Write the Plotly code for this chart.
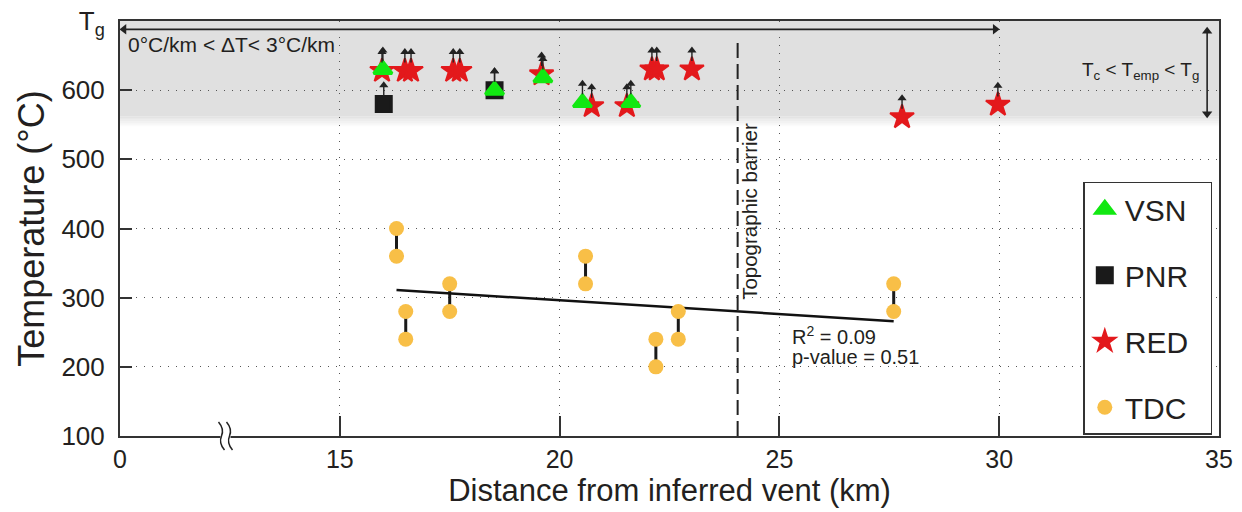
import plotly.graph_objects as go

# ---------------- data ----------------
vsn_x = [15.98, 18.52, 19.62, 20.52, 21.62]
vsn_t = [630, 600, 618, 582, 582]

pnr_x = [16.00, 18.52]
pnr_t = [580, 600]

red_x = [15.96, 16.48, 16.62, 17.58, 17.73, 19.59, 20.73, 21.53, 22.10, 22.21, 23.01, 27.79, 29.97]
red_t = [628, 628, 628, 628, 628, 623, 577, 577, 630, 630, 630, 561, 579]

tdc_x = [16.29, 16.50, 17.50, 20.59, 22.19, 22.70, 27.60]
tdc_low = [360, 240, 280, 320, 200, 240, 280]
tdc_high = [400, 280, 320, 360, 240, 280, 320]

fit_x = [16.29, 27.60]
fit_t = [311, 266]
r_squared = 0.09
p_value = 0.51

barrier_x = 24.05
barrier_top = 677
band_low, band_high = 556, 700          # Tc < Temp < Tg band
gradient_x = [10, 30]                    # 0 .. 30 km arrow
gradient_y = 688
band_arrow_x = 34.73
band_arrow_y = [560, 691]
break_x = 12.4

x_tickvals = [10, 15, 20, 25, 30, 35]
x_ticktext = ["0", "15", "20", "25", "30", "35"]
y_tickvals = [100, 200, 300, 400, 500, 600, 700]
y_ticktext = ["100", "200", "300", "400", "500", "600", "T<sub>g</sub>"]

X_RANGE = [10, 35]
Y_RANGE = [100, 700]
L, R, T, B, W, H = 120, 23, 21, 76, 1242, 512
PX_X = (X_RANGE[1] - X_RANGE[0]) / (W - L - R)   # data units per pixel
PX_Y = (Y_RANGE[1] - Y_RANGE[0]) / (H - T - B)

FONT = "Liberation Sans, Arial, sans-serif"
TXT = "#231f20"
AX = "#333333"
ARR = "#222222"
HEAD = 8
RED, GREEN, BLACK, GOLD = "#e3191c", "#12e812", "#1a1a1a", "#f8bf47"
PAD = "\u00a0\u00a0"   # right padding inside the legend box

fig = go.Figure()

# TDC connecting bars
bx, by = [], []
for x, lo, hi in zip(tdc_x, tdc_low, tdc_high):
    bx += [x, x, None]
    by += [lo, hi, None]
fig.add_trace(go.Scatter(x=bx, y=by, mode="lines", line=dict(color="#1a1a1a", width=3),
                         showlegend=False, hoverinfo="skip"))

# regression line
fig.add_trace(go.Scatter(x=fit_x, y=fit_t, mode="lines", line=dict(color="#111111", width=2.5),
                         showlegend=False, hoverinfo="skip"))

fig.add_trace(go.Scatter(x=red_x, y=red_t, mode="markers", name="RED" + PAD, legendrank=3,
                         legendgroup="red",
                         marker=dict(symbol="star", size=18, color=RED,
                                     line=dict(width=2, color=RED))))
fig.add_trace(go.Scatter(x=pnr_x, y=pnr_t, mode="markers", name="PNR" + PAD, legendrank=2,
                         legendgroup="pnr",
                         marker=dict(symbol="square", size=15, color=BLACK,
                                     line=dict(width=3, color=BLACK))))
fig.add_trace(go.Scatter(x=vsn_x, y=vsn_t, mode="markers", name="VSN" + PAD, legendrank=1,
                         legendgroup="vsn",
                         marker=dict(symbol="triangle-up", size=16, color=GREEN,
                                     line=dict(width=3, color=GREEN))))
fig.add_trace(go.Scatter(x=tdc_x + tdc_x, y=tdc_low + tdc_high, mode="markers", name="TDC" + PAD,
                         legendrank=4, legendgroup="tdc",
                         marker=dict(symbol="circle", size=15, color=GOLD, line=dict(width=0))))

# upward arrows for minimum temperatures (shafts + heads)
ax_, ay_, hx, hy = [], [], [], []
head_off = HEAD / 2 * PX_Y
for xs, ts in ((red_x, red_t), (pnr_x, pnr_t), (vsn_x, vsn_t)):
    for x, t in zip(xs, ts):
        tip = t + 33
        ax_ += [x, x, None]
        ay_ += [t + 12, tip - head_off, None]
        hx.append(x)
        hy.append(tip - head_off)
fig.add_trace(go.Scatter(x=ax_, y=ay_, mode="lines", line=dict(color=ARR, width=1.4),
                         showlegend=False, hoverinfo="skip"))
fig.add_trace(go.Scatter(x=hx, y=hy, mode="markers", showlegend=False, hoverinfo="skip",
                         marker=dict(symbol="triangle-up", size=HEAD, color=ARR, line=dict(width=0))))

# horizontal gradient arrow (double headed)
hoff = HEAD / 2 * PX_X
fig.add_trace(go.Scatter(x=[gradient_x[0] + hoff, gradient_x[1] - hoff], y=[gradient_y, gradient_y],
                         mode="lines", line=dict(color=ARR, width=1.8),
                         showlegend=False, hoverinfo="skip"))
fig.add_trace(go.Scatter(x=[gradient_x[0] + hoff, gradient_x[1] - hoff], y=[gradient_y, gradient_y],
                         mode="markers", showlegend=False, hoverinfo="skip",
                         marker=dict(symbol=["triangle-left", "triangle-right"], size=HEAD + 1,
                                     color=ARR, line=dict(width=0))))
# vertical band arrow (double headed)
fig.add_trace(go.Scatter(x=[band_arrow_x, band_arrow_x],
                         y=[band_arrow_y[0] + head_off, band_arrow_y[1] - head_off],
                         mode="lines", line=dict(color=ARR, width=1.6),
                         showlegend=False, hoverinfo="skip"))
fig.add_trace(go.Scatter(x=[band_arrow_x, band_arrow_x],
                         y=[band_arrow_y[0] + head_off, band_arrow_y[1] - head_off],
                         mode="markers", showlegend=False, hoverinfo="skip",
                         marker=dict(symbol=["triangle-down", "triangle-up"], size=HEAD + 1,
                                     color=ARR, line=dict(width=0))))

annotations = []
annotations.append(dict(x=gradient_x[0], y=666, xref="x", yref="y", xanchor="left", xshift=6,
                        text="0°C/km < ΔT< 3°C/km", showarrow=False,
                        font=dict(size=21, color=TXT, family=FONT)))
annotations.append(dict(x=34.58, y=628, xref="x", yref="y", xanchor="right",
                        text="T<sub>c</sub> < T<sub>emp</sub> < T<sub>g</sub>", showarrow=False,
                        font=dict(size=19, color=TXT, family=FONT)))
annotations.append(dict(x=barrier_x, y=425, xref="x", yref="y", xshift=12, textangle=-90,
                        text="Topographic barrier", showarrow=False,
                        font=dict(size=20.5, color=TXT, family=FONT)))
annotations.append(dict(x=25.25, y=246, xref="x", yref="y", xanchor="left",
                        text=f"R<sup>2</sup> = {r_squared:.2f}", showarrow=False,
                        font=dict(size=20, color=TXT, family=FONT)))
annotations.append(dict(x=25.25, y=214, xref="x", yref="y", xanchor="left",
                        text=f"p-value = {p_value:.2f}", showarrow=False,
                        font=dict(size=20, color=TXT, family=FONT)))

shapes = []
# grey band with soft lower edge
shapes.append(dict(type="rect", xref="x", yref="y", x0=X_RANGE[0], x1=X_RANGE[1],
                   y0=band_low + 6, y1=band_high,
                   fillcolor="#e0e0e0", line=dict(width=0), layer="below"))
steps = 6
for i in range(steps):
    y0 = band_low - 8 + i * 14 / steps
    shapes.append(dict(type="rect", xref="x", yref="y", x0=X_RANGE[0], x1=X_RANGE[1],
                       y0=y0, y1=y0 + 14 / steps,
                       fillcolor=f"rgba(224,224,224,{(i + 1) / (steps + 1):.2f})",
                       line=dict(width=0), layer="below"))
# barrier line
shapes.append(dict(type="line", xref="x", yref="y", x0=barrier_x, x1=barrier_x,
                   y0=Y_RANGE[0], y1=barrier_top,
                   line=dict(color="#222222", width=2, dash="15px,6px")))
# axis break (paper refs so it is not clipped)
bxp = (break_x - X_RANGE[0]) / (X_RANGE[1] - X_RANGE[0])
shapes.append(dict(type="rect", xref="paper", yref="paper", xsizemode="pixel", ysizemode="pixel",
                   xanchor=bxp, yanchor=0, x0=-5, x1=5, y0=-4, y1=4,
                   fillcolor="white", line=dict(width=0), layer="above"))
for cx in (-4, 4):
    shapes.append(dict(type="path", xref="paper", yref="paper", xsizemode="pixel", ysizemode="pixel",
                       xanchor=bxp, yanchor=0,
                       path=f"M {cx-3},14 Q {cx+3},7 {cx},0 Q {cx-3},-7 {cx+3},-14",
                       line=dict(color="#222222", width=1.5), layer="above"))

fig.update_layout(
    width=W, height=H, template="none",
    paper_bgcolor="white", plot_bgcolor="white",
    margin=dict(l=L, r=R, t=T, b=B, autoexpand=False),
    font=dict(family=FONT, color=TXT, size=26),
    showlegend=True,
    legend=dict(x=0.9939, xanchor="right", y=0.003, yanchor="bottom",
                bgcolor="white", bordercolor="#333333", borderwidth=1.5,
                font=dict(size=30, family=FONT, color=TXT),
                tracegroupgap=24, itemsizing="trace"),
    annotations=annotations, shapes=shapes,
    xaxis=dict(range=X_RANGE, tickvals=x_tickvals, ticktext=x_ticktext,
               showline=True, linecolor=AX, linewidth=2, mirror=True,
               ticks="inside", ticklen=20, tickcolor=AX, tickwidth=1.5,
               showgrid=True, gridcolor="#555555", gridwidth=1, griddash="1px,7px",
               zeroline=False, tickfont=dict(size=25), ticklabelstandoff=0,
               title=dict(text="Distance from inferred vent (km)", font=dict(size=31), standoff=3)),
    yaxis=dict(range=Y_RANGE, tickvals=y_tickvals, ticktext=y_ticktext,
               showline=True, linecolor=AX, linewidth=2, mirror=True,
               ticks="inside", ticklen=12, tickcolor=AX, tickwidth=1.5,
               showgrid=True, gridcolor="#555555", gridwidth=1, griddash="1px,7px",
               zeroline=False, tickfont=dict(size=26), ticklabelstandoff=8,
               title=dict(text="Temperature (°C)", font=dict(size=36), standoff=6)),
)

fig.write_html("out.html")
